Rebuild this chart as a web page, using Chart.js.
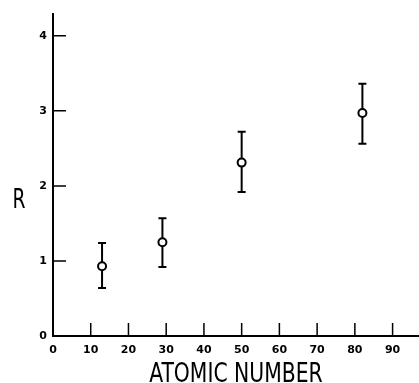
<!DOCTYPE html>
<html>
<head>
<meta charset="utf-8">
<script src="https://cdn.jsdelivr.net/npm/chart.js@4"></script>
<style>
  html, body { margin: 0; padding: 0; background: #fff; overflow: hidden; }
  #wrap { width: 419px; height: 383px; }
</style>
</head>
<body>
<div id="wrap"><canvas id="chart"></canvas></div>
<script>
// --- Data ---
const atomicNumbers = [13, 29, 50, 82];
const rValues = [0.93, 1.25, 2.31, 2.97];
const rUpper = [1.24, 1.57, 2.72, 3.36];
const rLower = [0.64, 0.92, 1.92, 2.56];
const xTicks = [0, 10, 20, 30, 40, 50, 60, 70, 80, 90];
const yTicks = [0, 1, 2, 3, 4];

// narrow hand-lettered look: squeeze text horizontally
function narrowText(ctx, text, x, y, size, squeeze) {
    ctx.save();
    ctx.translate(x, y);
    ctx.scale(squeeze, 1);
    ctx.font = size + 'px "DejaVu Sans Condensed"';
    ctx.fillText(text, 0, 0);
    ctx.restore();
}

// error bars + inward tick marks + axis titles
const extras = {
    id: 'extras',
    beforeDatasetsDraw(chart) {
        const { ctx, scales: { x, y } } = chart;
        ctx.save();
        ctx.strokeStyle = '#000';
        ctx.lineWidth = 2;
        atomicNumbers.forEach((z, i) => {
            const px = x.getPixelForValue(z);
            const top = y.getPixelForValue(rUpper[i]);
            const bot = y.getPixelForValue(rLower[i]);
            ctx.beginPath();
            ctx.moveTo(px, top); ctx.lineTo(px, bot);
            ctx.moveTo(px - 4, top); ctx.lineTo(px + 4, top);
            ctx.moveTo(px - 4, bot); ctx.lineTo(px + 4, bot);
            ctx.stroke();
        });
        ctx.restore();
    },
    afterDraw(chart) {
        const { ctx, chartArea, scales: { x, y } } = chart;
        ctx.save();
        ctx.strokeStyle = '#000';
        ctx.lineWidth = 1.5;
        ctx.beginPath();
        y.ticks.forEach(t => {
            if (t.value === 0) return;
            const py = y.getPixelForValue(t.value);
            ctx.moveTo(chartArea.left, py);
            ctx.lineTo(chartArea.left + 13, py);
        });
        x.ticks.forEach(t => {
            if (t.value === 0) return;
            const px = x.getPixelForValue(t.value);
            ctx.moveTo(px, chartArea.bottom);
            ctx.lineTo(px, chartArea.bottom - 13);
        });
        ctx.stroke();

        ctx.fillStyle = '#000';
        ctx.textAlign = 'center';
        ctx.textBaseline = 'alphabetic';
        narrowText(ctx, 'ATOMIC NUMBER', (chartArea.left + chartArea.right) / 2, 382, 26, 0.87);
        narrowText(ctx, 'R', 19, 208, 26, 0.8);
        ctx.restore();
    }
};

new Chart(document.getElementById('chart'), {
    type: 'scatter',
    data: {
        datasets: [{
            label: 'R',
            data: atomicNumbers.map((z, i) => ({ x: z, y: rValues[i] })),
            pointRadius: 4,
            pointHoverRadius: 4,
            pointBorderWidth: 2,
            pointBackgroundColor: '#fff',
            borderColor: '#000',
            showLine: false
        }]
    },
    options: {
        responsive: true,
        maintainAspectRatio: false,
        animation: false,
        layout: { autoPadding: false, padding: { top: 14, right: 0, left: 0, bottom: 0 } },
        plugins: {
            legend: { display: false },
            tooltip: { enabled: false }
        },
        scales: {
            x: {
                type: 'linear',
                min: 0,
                max: 97,
                afterBuildTicks: s => { s.ticks = xTicks.map(v => ({ value: v })); },
                afterFit: s => { s.height = 47; s.paddingLeft = 0; s.paddingRight = 0; },
                grid: { display: false, drawTicks: false },
                border: { display: true, color: '#000', width: 2 },
                ticks: {
                    color: '#000',
                    padding: 8,
                    maxRotation: 0,
                    autoSkip: false,
                    font: { family: 'DejaVu Sans', size: 11, weight: 'bold' }
                }
            },
            y: {
                type: 'linear',
                min: 0,
                max: 4.29,
                afterBuildTicks: s => { s.ticks = yTicks.map(v => ({ value: v })); },
                afterFit: s => { s.width = 53; },
                grid: { display: false, drawTicks: false },
                border: { display: true, color: '#000', width: 2 },
                ticks: {
                    color: '#000',
                    padding: 6,
                    font: { family: 'DejaVu Sans', size: 11, weight: 'bold' }
                }
            }
        }
    },
    plugins: [extras]
});
</script>
</body>
</html>
